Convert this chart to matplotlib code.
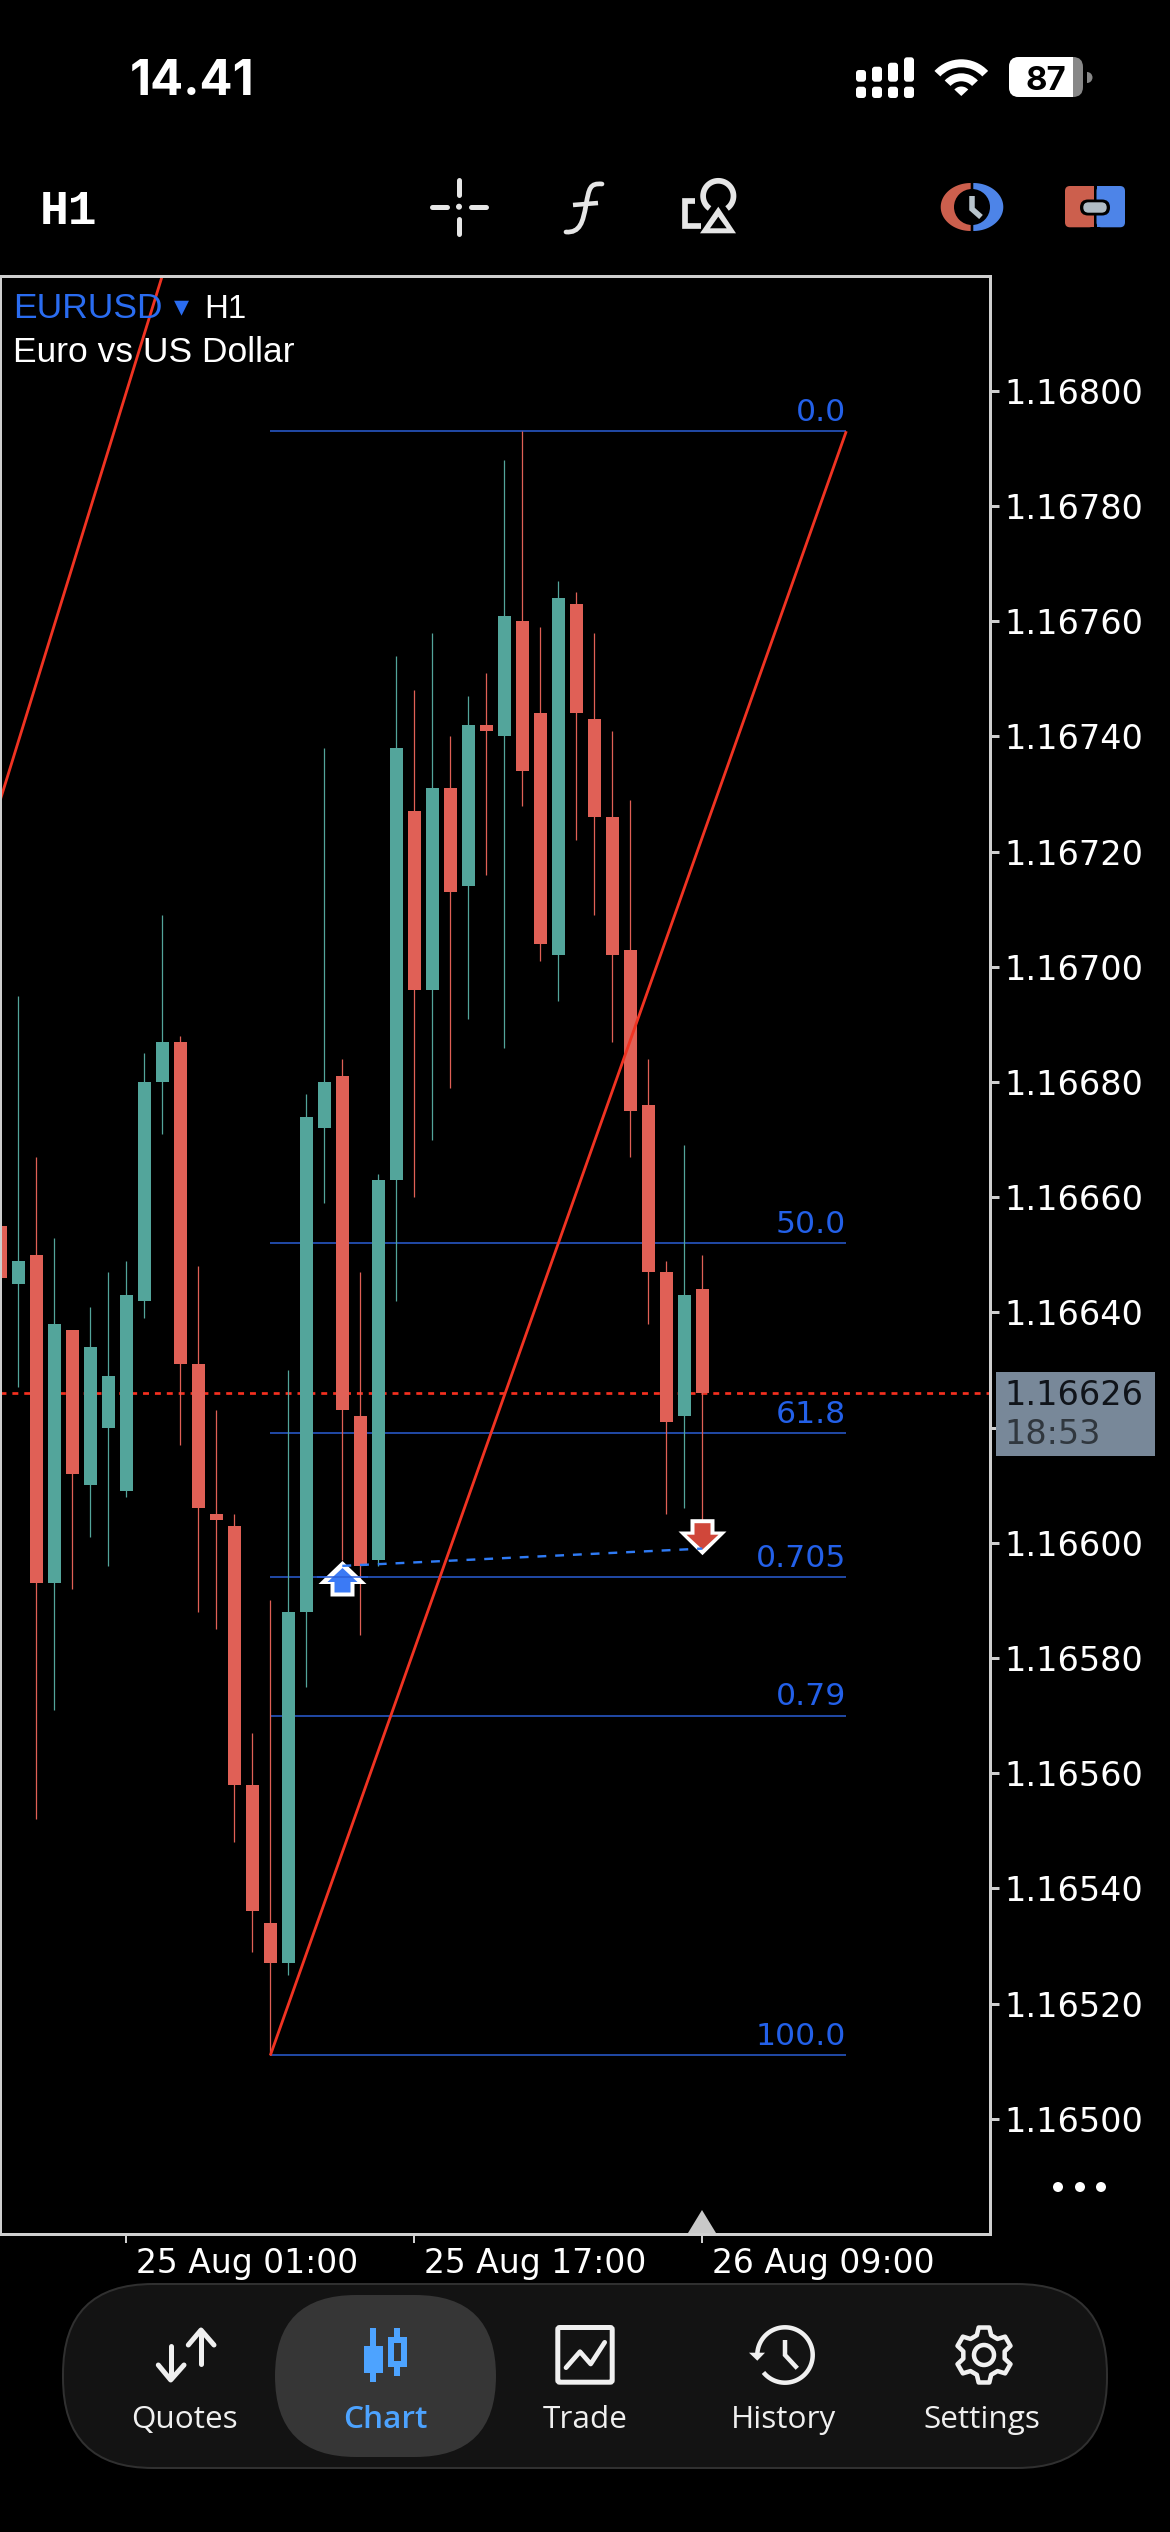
import numpy as np
import matplotlib
matplotlib.use("Agg")
import matplotlib.pyplot as plt
from matplotlib.patches import FancyBboxPatch, Polygon, Wedge, Circle, Rectangle, PathPatch
from matplotlib.path import Path
from matplotlib.transforms import ScaledTranslation

plt.rcParams['font.family'] = ['Inter', 'DejaVu Sans']

# ---------- data ----------
opens = [1.16655, 1.16645, 1.16650, 1.16593, 1.16637, 1.16610, 1.16620, 1.16609, 1.16642, 1.16680,
         1.16687, 1.16631, 1.16605, 1.16603, 1.16558, 1.16534, 1.16527, 1.16588, 1.16672, 1.16681,
         1.16622, 1.16597, 1.16663, 1.16727, 1.16696, 1.16731, 1.16714, 1.16742, 1.16740, 1.16760,
         1.16744, 1.16702, 1.16763, 1.16743, 1.16726, 1.16703, 1.16676, 1.16647, 1.16622, 1.16644]
closes = [1.16646, 1.16649, 1.16593, 1.16638, 1.16612, 1.16634, 1.16629, 1.16643, 1.16680, 1.16687,
          1.16631, 1.16606, 1.16604, 1.16558, 1.16536, 1.16527, 1.16588, 1.16674, 1.16680, 1.16623,
          1.16596, 1.16663, 1.16738, 1.16696, 1.16731, 1.16713, 1.16742, 1.16741, 1.16761, 1.16734,
          1.16704, 1.16764, 1.16744, 1.16726, 1.16702, 1.16675, 1.16647, 1.16621, 1.16643, 1.16626]
highs = [1.16655, 1.16695, 1.16667, 1.16653, 1.16637, 1.16641, 1.16647, 1.16649, 1.16685, 1.16709,
         1.16688, 1.16648, 1.16623, 1.16605, 1.16567, 1.16590, 1.16630, 1.16678, 1.16738, 1.16684,
         1.16647, 1.16664, 1.16754, 1.16748, 1.16758, 1.16740, 1.16747, 1.16751, 1.16788, 1.16793,
         1.16759, 1.16767, 1.16765, 1.16758, 1.16741, 1.16729, 1.16684, 1.16649, 1.16669, 1.16650]
lows = [1.16646, 1.16627, 1.16552, 1.16571, 1.16592, 1.16601, 1.16596, 1.16608, 1.16639, 1.16671,
        1.16617, 1.16588, 1.16585, 1.16548, 1.16529, 1.16511, 1.16525, 1.16575, 1.16659, 1.16597,
        1.16584, 1.16596, 1.16642, 1.16660, 1.16670, 1.16679, 1.16691, 1.16716, 1.16686, 1.16728,
        1.16701, 1.16694, 1.16722, 1.16709, 1.16687, 1.16667, 1.16638, 1.16605, 1.16606, 1.16603]

fib_labels = ["0.0", "50.0", "61.8", "0.705", "0.79", "100.0"]
fib_prices = [1.16793, 1.16652, 1.16619, 1.16594, 1.16570, 1.16511]
fib_bars = [15, 47]
trend_bars = [15, 47]
trend_prices = [1.16511, 1.16793]
trend2_bars = [0, 9]
trend2_prices = [1.16729, 1.16820]
deal_bars = [19, 39]
deal_prices = [1.16596, 1.16599]
ytick_values = [1.16500, 1.16520, 1.16540, 1.16560, 1.16580, 1.16600, 1.16620, 1.16640,
                1.16660, 1.16680, 1.16700, 1.16720, 1.16740, 1.16760, 1.16780, 1.16800]
hidden_ytick = 1.16620  # covered by the price box in the reference
xtick_bars = [7, 23, 39]
xtick_labels = ["25 Aug 01:00", "25 Aug 17:00", "26 Aug 09:00"]
nav_labels = ["Quotes", "Chart", "Trade", "History", "Settings"]
countdown = "18:53"

# ---------- colours ----------
GREEN, RED = "#53A59B", "#E06056"
FRAME = "#CFCFCF"
FIB = "#2B5FD9"
FIBTXT = "#2360E8"
LINE_RED = "#F03322"
W = 1170
H = 2532
px = 72 / 100  # points per pixel
WIDE = ['DejaVu Sans']

fig = plt.figure(figsize=(W / 100, H / 100), dpi=100, facecolor="black")
L, R, T, B = 0.0, 989.5, 275.7, 2234.0
ax = fig.add_axes([L / W, 1 - B / H, (R - L) / W, (B - T) / H], facecolor="black", zorder=1)
ax.set_xlim((L - 0.3) / 18, (R - 0.3) / 18)
ax.set_ylim(1.16480, 1.16820)
for s in ax.spines.values():
    s.set_color(FRAME)
    s.set_linewidth(3 * px)
    s.set_zorder(6)

idx = np.arange(len(opens))
op, cl, hi, lo = map(np.array, (opens, closes, highs, lows))
cols = [GREEN if c >= o else RED for o, c in zip(op, cl)]

ax.vlines(idx, lo, hi, colors=cols, linewidth=1.25 * px, zorder=3)
ax.bar(idx, np.abs(cl - op), bottom=np.minimum(op, cl), width=13 / 18, color=cols, linewidth=0, zorder=3)

# fibo levels
ax.hlines(fib_prices, fib_bars[0], fib_bars[1], colors=FIB, linewidth=1.5 * px, zorder=2)
for lab, p in zip(fib_labels, fib_prices):
    ax.annotate(lab, (fib_bars[1], p), xytext=(0, 10.5 * px), textcoords="offset points",
                ha="right", va="baseline", color=FIBTXT, fontsize=31.5 * px, zorder=7, family=WIDE)

# trend lines
ax.plot(trend_bars, trend_prices, color=LINE_RED, lw=2.8 * px, zorder=5, solid_capstyle="butt")
ax.plot(trend2_bars, trend2_prices, color=LINE_RED, lw=2.8 * px, zorder=5, solid_capstyle="butt")

# current price line
ax.axhline(closes[-1], color="#F5301F", lw=2.7 * px, dashes=(2.2, 2.2), zorder=2)

# deal line
ax.plot(deal_bars, deal_prices, color="#2F7BF5", lw=2.4 * px, dashes=(3.7, 3.7), zorder=5)


def arrow_marker(verts):
    v = np.array(verts + [verts[0]], float)
    return Path(v, closed=True), 2 * np.abs(v).max() * px


up_out = [(0, 5.5), (24, -17.5), (12, -17.5), (12, -30), (-12, -30), (-12, -17.5), (-24, -17.5)]
up_in = [(0, -1.5), (15, -15.5), (8, -15.5), (8, -26), (-8, -26), (-8, -15.5), (-15, -15.5)]
dn_out = [(0, -5.7), (24, 18), (12, 18), (12, 30.3), (-12, 30.3), (-12, 18), (-24, 18)]
dn_in = [(0, 0), (16, 14.8), (8, 14.8), (8, 26.3), (-8, 26.3), (-8, 14.8), (-16, 14.8)]
for (b, p, vs, c) in [(deal_bars[0], deal_prices[0], up_out, "white"),
                      (deal_bars[0], deal_prices[0], up_in, "#3B7AF5"),
                      (deal_bars[1], deal_prices[1], dn_out, "white"),
                      (deal_bars[1], deal_prices[1], dn_in, "#D0473A")]:
    path, ms = arrow_marker(vs)
    ax.plot([b], [p], marker=path, ms=ms, mfc=c, mew=0, ls="none", zorder=4)
ax.hlines(fib_prices[3], deal_bars[0] - 1.4, deal_bars[0] + 1.4, colors=FIB, linewidth=1.5 * px, zorder=4.5)

# axes ticks
ax.yaxis.tick_right()
ax.set_yticks(ytick_values)
ax.set_yticklabels(["" if v == hidden_ytick else f"{v:.5f}" for v in ytick_values],
                   color="white", fontsize=33.5 * px, family=WIDE)
ax.tick_params(axis="y", length=9 * px, width=3 * px, color=FRAME, pad=5.5 * px)
ax.set_xticks(xtick_bars)
ax.set_xticklabels(xtick_labels, color="white", fontsize=33 * px, ha="left", family=WIDE)
ax.tick_params(axis="x", length=9 * px, width=2 * px, color=FRAME, pad=4 * px)
shift = ScaledTranslation(10 / 100, 0, fig.dpi_scale_trans)
for t in ax.get_xticklabels():
    t.set_transform(t.get_transform() + shift)

# price box
ytr = ax.get_yaxis_transform()
fx = lambda v: (v - L) / (R - L)
ax.add_patch(Rectangle((fx(996), closes[-1] - 0.00011), (1155 - 996) / (R - L), 0.000146, transform=ytr,
                       facecolor="#788899", edgecolor="none", clip_on=False, zorder=6))
ax.text(fx(1004), closes[-1] - 0.000004, f"{closes[-1]:.5f}", transform=ytr, color="#10141a", fontsize=33.5 * px,
        va="center", ha="left", clip_on=False, zorder=7, family=WIDE)
ax.text(fx(1004), closes[-1] - 0.000072, countdown, transform=ytr, color="#30373e", fontsize=33.5 * px,
        va="center", ha="left", clip_on=False, zorder=7, family=WIDE)

# symbol header (inside the chart)
def atext(x, y, s, **k):
    return ax.annotate(s, xy=(x / W, 1 - y / H), xycoords="figure fraction", va="baseline",
                       annotation_clip=False, zorder=8, **k)

HEAD = ['Liberation Sans']
atext(13, 318, "EURUSD", color="#2A6CF0", fontsize=35.4 * px, family=HEAD)
atext(181, 315, "▾", color="#2A6CF0", fontsize=30 * px, ha="center", family=WIDE)
atext(204, 318, "H1", color="white", fontsize=33 * px, family=HEAD)
atext(13, 362, "Euro vs US Dollar", color="white", fontsize=35.4 * px, family=HEAD)

# ---------- phone chrome in pixel coordinates ----------
ch = fig.add_axes([0, 0, 1, 1], zorder=2)
ch.set_xlim(0, W)
ch.set_ylim(H, 0)
ch.axis("off")
ch.patch.set_alpha(0)


def rbox(x0, y0, x1, y1, r, fc, ec="none", lw=0, z=3):
    p = FancyBboxPatch((x0 + r, y0 + r), x1 - x0 - 2 * r, y1 - y0 - 2 * r, boxstyle=f"round,pad={r},rounding_size={r}",
                       fc=fc, ec=ec, lw=lw, zorder=z, mutation_aspect=1)
    ch.add_patch(p)
    return p


def stroke(pts, c="#EDEDED", w=5.0, cap="round", z=5, join="round"):
    xs, ys = zip(*pts)
    ch.plot(xs, ys, color=c, lw=w * px, solid_capstyle=cap, solid_joinstyle=join, zorder=z)


# status bar
ch.text(130, 95, "14.41", color="white", fontsize=49 * px, weight="bold", va="baseline")
for x0, top in zip([856, 872, 888, 904], [70, 66.7, 62.7, 57.3]):
    rbox(x0, top, x0 + 10, 81.7, 3, "white")
    rbox(x0, 86.7, x0 + 10, 98, 3, "white")
for r, w in [(36.7, 8), (22.7, 8), (9.5, 9.5)]:
    ch.add_patch(Wedge((961.3, 96), r, 223, 317, width=w, fc="white", ec="none", zorder=4))
rbox(1009, 57, 1083, 97, 10, "#888888")
ch.add_patch(Rectangle((1019, 57), 54, 40, fc="white", ec="none", zorder=4))
rbox(1009, 57, 1035, 97, 10, "white", z=4)
ch.add_patch(Wedge((1087, 77.5), 5.5, -90, 90, fc="#888888", ec="none", zorder=4))
ch.text(1045.5, 90, "87", color="black", fontsize=33 * px, weight="bold", ha="center", va="baseline", zorder=5)

# toolbar
ch.text(40, 224, "H1", color="white", fontsize=48 * px, weight="bold", va="baseline", family="Liberation Mono")
for seg in [[(432, 206.7), (447, 206.7)], [(471, 206.7), (486, 206.7)], [(459, 180), (459, 195)], [(459, 219), (459, 234)]]:
    stroke(seg, "#E6E6E6", 5)
ch.add_patch(Circle((459, 206.7), 3, fc="#E6E6E6", ec="none", zorder=5))
f_path = Path([(566, 232), (580, 233), (583, 222), (586, 205), (589, 188), (590, 183), (602, 184)],
              [Path.MOVETO, Path.CURVE4, Path.CURVE4, Path.CURVE4, Path.CURVE4, Path.CURVE4, Path.CURVE4])
ch.add_patch(PathPatch(f_path, fc="none", ec="#E6E6E6", lw=4.7 * px, capstyle="round", zorder=5))
stroke([(573, 205), (598, 203)], "#E6E6E6", 4.5, cap="butt")
t = np.radians(np.linspace(-55, 235, 60))
stroke(list(zip(718.3 + 15.2 * np.cos(t), 196 - 15.2 * np.sin(t))), "#E6E6E6", 5.7, cap="butt")
ch.add_patch(Polygon([(718.3, 206.7), (736, 233.3), (700, 233.3)], fc="#E6E6E6", ec="none", zorder=5))
ch.add_patch(Polygon([(718.3, 216.7), (726.7, 228.3), (710, 228.3)], fc="black", ec="none", zorder=6))
stroke([(695, 201), (685, 201), (685, 225.5), (701, 225.5)], "#E6E6E6", 5.7, cap="butt", join="miter")

CR, CB = "#CC5F4D", "#4D84E8"
t = np.radians(np.linspace(90, 270, 60))
ch.add_patch(Polygon(list(zip(970.7 + 30 * np.cos(t), 207 - 24 * np.sin(t))), fc=CR, ec="none", zorder=4))
ch.add_patch(Polygon(list(zip(973.3 - 30 * np.cos(t), 207 - 24 * np.sin(t))), fc=CB, ec="none", zorder=4))
ch.add_patch(Circle((972, 207), 18, fc="black", ec="none", zorder=5))
stroke([(972, 196), (972, 209), (981, 217)], "#B8C4CC", 5.5, cap="butt", join="miter", z=6)

rbox(1065, 186, 1094, 227.3, 5, CR)
rbox(1096.5, 186, 1125, 227.3, 5, CB)
ch.add_patch(Rectangle((1085, 186), 9, 41.3, fc=CR, ec="none", zorder=3))
ch.add_patch(Rectangle((1096.5, 186), 9, 41.3, fc=CB, ec="none", zorder=3))
rbox(1080, 199.5, 1110, 215.5, 8, "black", z=5)
rbox(1083.3, 202.3, 1106.7, 212.7, 5.2, "#B0BCC4", z=6)

# three dots, axis marker
for x0 in (1058, 1080, 1101):
    ch.add_patch(Circle((x0, 2187), 5, fc="white", ec="none", zorder=5))
ch.add_patch(Polygon([(688, 2233), (702, 2210), (716, 2233)], fc="#C8C8C8", ec="none", zorder=5))

# nav bar
rbox(63, 2284, 1107, 2468, 90, "#131313", ec="#303030", lw=2 * px, z=2)
rbox(275, 2295, 496, 2457, 81, "#363636", z=3)
for x0, lab in zip([184, 385, 585, 783, 982], nav_labels):
    ch.text(x0, 2428, lab, color="#4DA3FF" if lab == "Chart" else "#F0F0F0", fontsize=31.5 * px,
            ha="center", va="baseline", zorder=6, weight="semibold" if lab == "Chart" else "normal",
            family="Open Sans")
# quotes
stroke([(170.7, 2346), (170.7, 2378)], "#F0F0F0", 5)
stroke([(158.3, 2365), (170.7, 2380), (184, 2365)], "#F0F0F0", 5)
stroke([(201, 2332), (201, 2364)], "#F0F0F0", 5)
stroke([(188.3, 2345), (201, 2330), (214, 2345)], "#F0F0F0", 5)
# chart
CH = "#4DA3FF"
stroke([(373.3, 2328), (373.3, 2381.7)], CH, 6, cap="butt")
ch.add_patch(Rectangle((364.3, 2346), 18.4, 26.7, fc=CH, ec="none", zorder=5))
stroke([(397.3, 2328), (397.3, 2376)], CH, 6, cap="butt")
ch.add_patch(Rectangle((388.3, 2337), 18.4, 29.7, fc=CH, ec="none", zorder=5))
ch.add_patch(Rectangle((394.3, 2343), 6.4, 18, fc="#363636", ec="none", zorder=6))
# trade
rbox(557.8, 2327.5, 612.2, 2382.2, 2, "none", ec="#F0F0F0", lw=5 * px, z=5)
stroke([(566, 2367.7), (580, 2351.7), (590.7, 2364), (604.7, 2342.3)], "#F0F0F0", 4.7)
# history
t = np.radians(np.linspace(183, -141, 90))
stroke(list(zip(785 + 27.7 * np.cos(t), 2355 - 27.7 * np.sin(t))), "#F0F0F0", 4.5, cap="butt")
ch.add_patch(Polygon([(749, 2352.7), (765, 2352.7), (757.3, 2360.7)], fc="#F0F0F0", ec="none", zorder=5))
stroke([(785, 2340), (785, 2355), (797.3, 2368.3)], "#F0F0F0", 4.5, cap="butt", join="miter")
# settings
gear = []
for k in range(6):
    a = 90 + 60 * k
    for da, r in [(-20, 21), (-11, 28), (11, 28), (20, 21)]:
        ang = np.radians(a + da)
        gear.append((984 + r * np.cos(ang), 2355 - r * np.sin(ang)))
ch.add_patch(Polygon(gear, closed=True, fc="none", ec="#F0F0F0", lw=4.5 * px, zorder=5, joinstyle="round"))
ch.add_patch(Circle((984, 2355), 10, fc="none", ec="#F0F0F0", lw=4.5 * px, zorder=5))

fig.savefig("out.png", dpi=100, facecolor="black")
